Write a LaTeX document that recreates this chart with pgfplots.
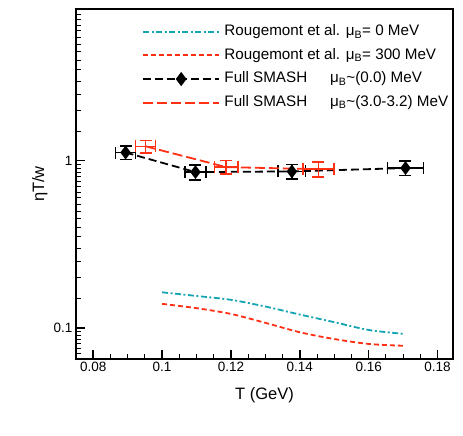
\documentclass[border=0pt]{standalone}
\usepackage{pgfplots}
\pgfplotsset{compat=1.18}
\usepackage{fontspec}
\setmainfont{Liberation Sans}
\definecolor{cyanc}{RGB}{20,165,178}
\definecolor{redc}{RGB}{255,48,20}
\begin{document}
\begin{tikzpicture}
\path[use as bounding box] (-76pt,-77pt) rectangle (387pt,359pt);
\begin{axis}[
 at={(0,0)}, anchor=south west,
 scale only axis, width=377pt, height=350pt,
 xmin=0.075, xmax=0.1845, ymode=log, ymin=0.065, ymax=8.1,
 xtick={0.08,0.1,0.12,0.14,0.16,0.18},
 xticklabels={0.08,0.1,0.12,0.14,0.16,0.18},
 minor xtick={0.085,0.09,0.095,0.105,0.11,0.115,0.125,0.13,0.135,0.145,0.15,0.155,0.165,0.17,0.175},
 ytick={0.1,1}, yticklabels={0.1,1},
 minor ytick={0.07,0.075,0.08,0.085,0.09,0.095,0.15,0.2,0.25,0.3,0.35,0.4,0.45,0.5,0.55,0.6,0.65,0.7,0.75,0.8,0.85,0.9,0.95,1.5,2,2.5,3,3.5,4,4.5,5,5.5,6,6.5,7,7.5,8},
 /pgf/number format/assume math mode=true,
 tick align=inside, xtick pos=bottom, ytick pos=left,
 major tick length=9pt, minor tick length=5pt,
 every major tick/.style={line width=1.5pt, black},
 every minor tick/.style={line width=0.9pt, black},
 axis line style={line width=1.6pt},
 tick label style={font=\fontsize{13.5}{16}\selectfont},
 xlabel={T (GeV)}, ylabel={ηT/w},
 every axis x label/.style={at={(axis description cs:0.5,-0.103)}, anchor=center, font=\fontsize{16.5}{19}\selectfont},
 every axis y label/.style={at={(axis description cs:-0.096,0.5)}, anchor=center, rotate=90, font=\fontsize{16.5}{19}\selectfont},
 legend style={at={(axis description cs:0.175,0.953)}, anchor=north west, draw=none, fill=none,
   font=\fontsize{15.2}{17}\selectfont, inner sep=0pt, row sep=10.6pt,
   nodes={text height=10pt, text depth=3pt, inner ysep=0pt, inner xsep=4.3pt}},
 legend cell align=left,
 legend image code/.code={\draw[mark repeat=2,mark phase=2,#1,sharp plot,line width=2pt] plot coordinates {(0pt,0.3pt) (38pt,0.3pt) (76pt,0.3pt)};},
]
\addplot[cyanc, line width=1.8pt, dash pattern=on 6pt off 2.5pt on 2pt off 2.5pt, smooth] coordinates {
 (0.10,0.163) (0.11,0.155) (0.12,0.147) (0.13,0.134) (0.14,0.120) (0.15,0.108) (0.16,0.097) (0.17,0.092)};
\addlegendentry{Rougemont et al. μ\textsubscript{B}= 0 MeV}
\addplot[color=redc, line width=1.8pt, dash pattern=on 5pt off 3pt, smooth] coordinates {
 (0.10,0.139) (0.11,0.131) (0.12,0.121) (0.13,0.107) (0.14,0.094) (0.15,0.0856) (0.16,0.080) (0.17,0.078)};
\addlegendentry{Rougemont et al. μ\textsubscript{B}= 300 MeV}
\addplot[black, line width=1.8pt, dash pattern=on 8pt off 4pt, mark=diamond*, mark size=5.5pt,
  mark options={solid, fill=black},
  error bars/.cd, x dir=both, x explicit, y dir=both, y explicit,
  error bar style={line width=1.6pt, solid, black},
  error mark options={rotate=90, mark size=6pt, line width=1.6pt, solid, black}] coordinates {
 (0.0894,1.12) +- (0.0029,0.105)
 (0.1097,0.855) +- (0.0030,0.085)
 (0.1377,0.863) +- (0.0040,0.085)
 (0.1707,0.904) +- (0.0052,0.09)};
\addlegendentry{Full SMASH\hspace{1.5em}μ\textsubscript{B}\textasciitilde(0.0) MeV}
\addplot[redc, line width=1.8pt, dash pattern=on 10pt off 4pt,
  error bars/.cd, x dir=both, x explicit, y dir=both, y explicit,
  error bar style={line width=1.6pt, solid, redc},
  error mark options={rotate=90, mark size=6pt, line width=1.6pt, solid, redc}] coordinates {
 (0.0952,1.22) +- (0.0029,0.105)
 (0.1186,0.916) +- (0.0034,0.085)
 (0.1454,0.89) +- (0.0045,0.09)};
\addlegendentry{Full SMASH\hspace{1.5em}μ\textsubscript{B}\textasciitilde(3.0-3.2) MeV}
\end{axis}
\end{tikzpicture}
\end{document}
